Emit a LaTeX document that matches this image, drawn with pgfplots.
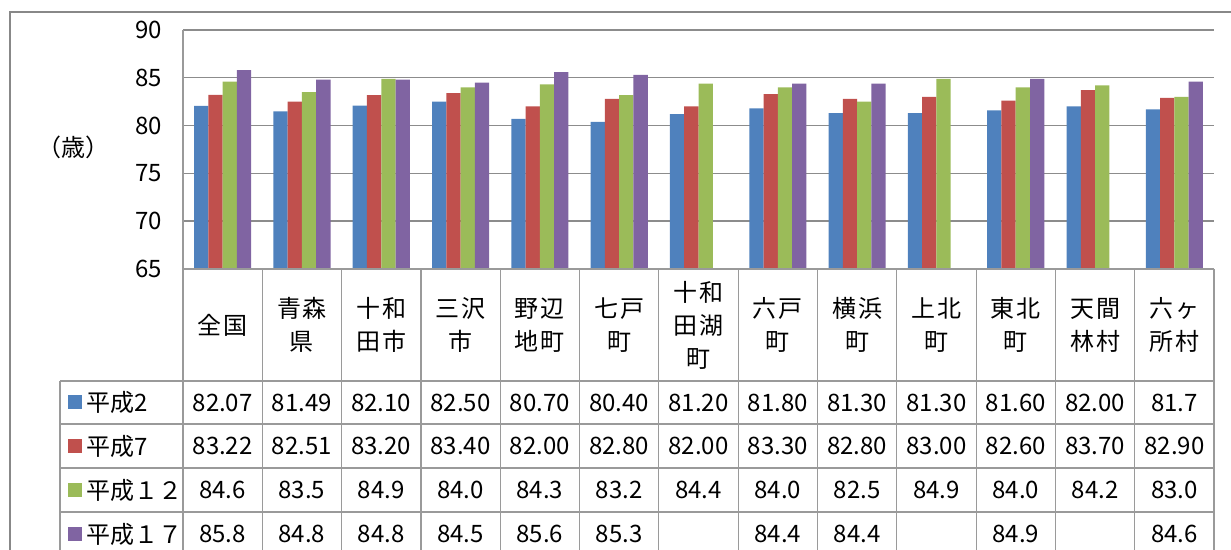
\documentclass[border=0pt]{standalone}
\usepackage{fontspec}
\setmainfont{Noto Sans CJK JP}
\newfontfamily\catfont[LetterSpace=8]{Noto Sans CJK JP}
\usepackage{pgfplots}
\pgfplotsset{compat=1.18}

\definecolor{s1}{HTML}{4F81BD}
\definecolor{s2}{HTML}{C0504D}
\definecolor{s3}{HTML}{9BBB59}
\definecolor{s4}{HTML}{8064A2}
\definecolor{gridgray}{HTML}{8C8C8C}
\definecolor{tablegray}{HTML}{9A9A9A}
\definecolor{framegray}{HTML}{888888}

\begin{document}
\begin{tikzpicture}
\begin{scope}[x=0.5pt,y=-0.5pt]
  \path[use as bounding box] (0,0) rectangle (1231,550);
\end{scope}
\clip (0,0) rectangle (615.5pt,-275pt);

% outer chart frame
\begin{scope}[x=0.5pt,y=-0.5pt]
  \draw[framegray, line width=1.2pt] (10,12) rectangle (1250,570);
\end{scope}

\begin{axis}[
  at={(91.5pt,-134.5pt)}, anchor=south west,
  scale only axis, width=515.5pt, height=119.5pt,
  xmin=-0.5, xmax=12.5, ymin=65, ymax=90,
  ytick={65,70,75,80,85,90}, xtick=\empty,
  ymajorgrids, grid style={color=gridgray, line width=0.7pt},
  axis line style={draw=none},
  major tick length=0pt,
  ybar=0pt, bar width=0.18,
  tick label style={font=\fontsize{12}{13}\selectfont},
  /pgf/number format/assume math mode=true,
  yticklabel style={xshift=-7pt},
]
% 平成2
\addplot[fill=s1, draw=none] coordinates {
  (0,82.07) (1,81.49) (2,82.10) (3,82.50) (4,80.70) (5,80.40) (6,81.20)
  (7,81.80) (8,81.30) (9,81.30) (10,81.60) (11,82.00) (12,81.7)};
% 平成7
\addplot[fill=s2, draw=none] coordinates {
  (0,83.22) (1,82.51) (2,83.20) (3,83.40) (4,82.00) (5,82.80) (6,82.00)
  (7,83.30) (8,82.80) (9,83.00) (10,82.60) (11,83.70) (12,82.90)};
% 平成12
\addplot[fill=s3, draw=none] coordinates {
  (0,84.6) (1,83.5) (2,84.9) (3,84.0) (4,84.3) (5,83.2) (6,84.4)
  (7,84.0) (8,82.5) (9,84.9) (10,84.0) (11,84.2) (12,83.0)};
% 平成17 (no value for 十和田湖町, 上北町, 天間林村)
\addplot[fill=s4, draw=none] coordinates {
  (0,85.8) (1,84.8) (2,84.8) (3,84.5) (4,85.6) (5,85.3)
  (7,84.4) (8,84.4) (10,84.9) (12,84.6)};
\end{axis}

% data table below the plot
\begin{scope}[x=0.5pt,y=-0.5pt]
  \node[font=\fontsize{12}{14}\selectfont] at (73,147) {（歳）};

  \begin{scope}[tablegray, line width=0.6pt]
    \draw (183,30) -- (183,570);
    \foreach \k in {1,...,13} \draw ({183+\k*79.31},269) -- ({183+\k*79.31},570);
    \draw (183,269) -- (1214,269);
    \foreach \r in {381,424,468,512,556} \draw (60,\r) -- (1214,\r);
    \draw (60,381) -- (60,570);
  \end{scope}

  \foreach \lab [count=\k from 0] in {全国,{青森\\県},{十和\\田市},{三沢\\市},{野辺\\地町},
      {七戸\\町},{十和\\田湖\\町},{六戸\\町},{横浜\\町},{上北\\町},{東北\\町},{天間\\林村},{六ヶ\\所村}}
    \node[align=center, font=\catfont\fontsize{12}{16.5}\selectfont]
      at ({183+(\k+0.5)*79.31},325) {\lab};

  \foreach \name/\col/\y in {平成2/s1/402.5, 平成7/s2/446, 平成１２/s3/490, 平成１７/s4/534} {
    \fill[\col] (68,\y-7) rectangle (82,\y+7);
    \node[anchor=west, inner sep=0pt, font=\fontsize{12}{14}\selectfont] at (86,\y) {\name};
  }

  \tikzset{cell/.style={font=\fontsize{12}{13}\selectfont}}
  \foreach \v [count=\k from 0] in {82.07,81.49,82.10,82.50,80.70,80.40,81.20,81.80,81.30,81.30,81.60,82.00,81.7}
    \node[cell] at ({183+(\k+0.5)*79.31},402.5) {\v};
  \foreach \v [count=\k from 0] in {83.22,82.51,83.20,83.40,82.00,82.80,82.00,83.30,82.80,83.00,82.60,83.70,82.90}
    \node[cell] at ({183+(\k+0.5)*79.31},446) {\v};
  \foreach \v [count=\k from 0] in {84.6,83.5,84.9,84.0,84.3,83.2,84.4,84.0,82.5,84.9,84.0,84.2,83.0}
    \node[cell] at ({183+(\k+0.5)*79.31},490) {\v};
  \foreach \v [count=\k from 0] in {85.8,84.8,84.8,84.5,85.6,85.3,{},84.4,84.4,{},84.9,{},84.6}
    \node[cell] at ({183+(\k+0.5)*79.31},534) {\v};
\end{scope}
\end{tikzpicture}
\end{document}
